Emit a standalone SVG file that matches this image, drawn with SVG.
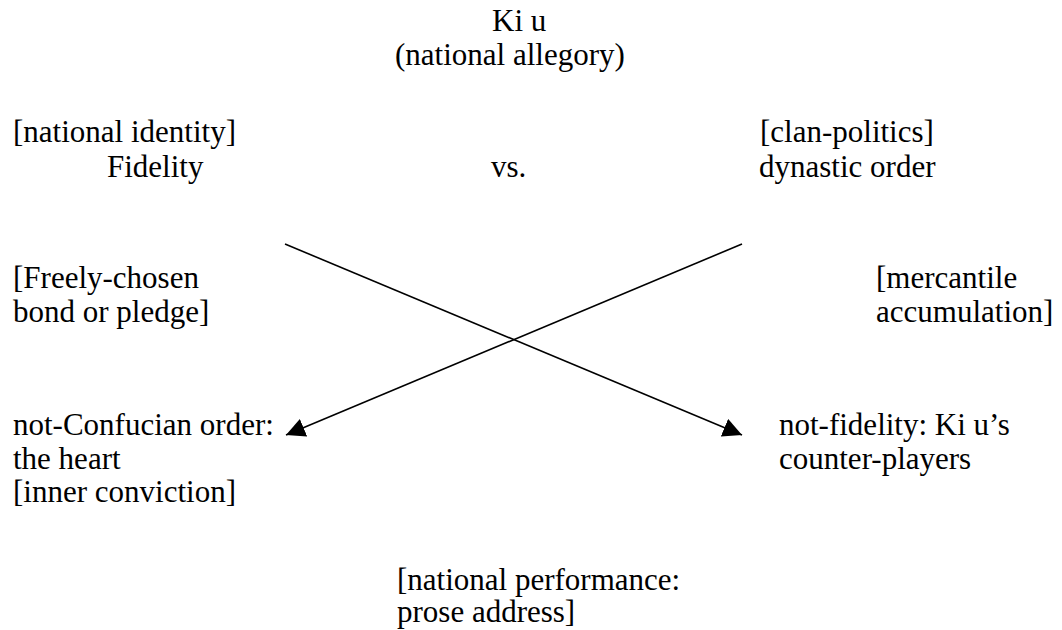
<svg xmlns="http://www.w3.org/2000/svg" width="1062" height="630" viewBox="0 0 1062 630">
<style>
text { font-family: "Liberation Serif", "Times New Roman", serif; font-size: 31px; fill: #000; }
.conn { stroke: #000; stroke-width: 1.6; fill: none; marker-end: url(#arrow); }
</style>
<defs>
<marker id="arrow" markerUnits="userSpaceOnUse" markerWidth="20" markerHeight="20" refX="19" refY="9.5" orient="auto">
<path d="M0,0 L19,9.5 L0,19 z" fill="#000"/>
</marker>
</defs>
<rect width="1062" height="630" fill="#fff"/>
<g id="title">
<text x="492" y="31">Ki u</text>
<text x="395" y="65">(national allegory)</text>
</g>
<g id="fidelity">
<text x="13" y="142">[national identity]</text>
<text x="107" y="177">Fidelity</text>
</g>
<g id="vs">
<text x="491" y="177">vs.</text>
</g>
<g id="dynastic">
<text x="760" y="142">[clan-politics]</text>
<text x="759" y="177">dynastic order</text>
</g>
<g id="freely">
<text x="13" y="288">[Freely-chosen</text>
<text x="13" y="322">bond or pledge]</text>
</g>
<g id="mercantile">
<text x="876" y="288">[mercantile</text>
<text x="876" y="322">accumulation]</text>
</g>
<g id="not-confucian">
<text x="13" y="435">not-Confucian order:</text>
<text x="13" y="469">the heart</text>
<text x="13" y="502">[inner conviction]</text>
</g>
<g id="not-fidelity">
<text x="779" y="435">not-fidelity: Ki u’s</text>
<text x="779" y="469">counter-players</text>
</g>
<g id="performance">
<text x="397" y="590">[national performance:</text>
<text x="397" y="622">prose address]</text>
</g>
<g id="connectors">
<line class="conn" x1="285" y1="244" x2="742" y2="435"/>
<line class="conn" x1="742" y1="244" x2="286" y2="435"/>
</g>
</svg>
